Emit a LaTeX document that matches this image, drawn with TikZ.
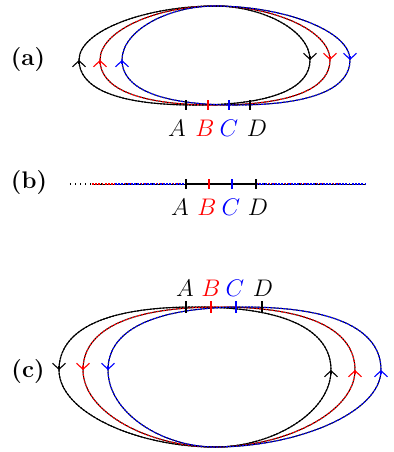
\documentclass[tikz,border=0pt]{standalone}
\usetikzlibrary{arrows.meta}

\tikzset{
  loopline/.style={draw=black,line width=0.5pt,postaction={draw=#1,line width=0.6pt,dash pattern=on 0.9pt off 0.7pt}},
  chevron/.style={draw=#1,line width=0.55pt,-{Straight Barb[length=3pt,width=6.5pt]}},
  tickmark/.style={draw=#1,line width=0.65pt},
  panel/.style={font=\bfseries\fontsize{12}{14}\selectfont},
  letter/.style={text=#1,font=\fontsize{11.5}{13}\selectfont}
}

\begin{document}
\begin{tikzpicture}[x=0.5pt,y=-0.5pt]
    \useasboundingbox (0,0) rectangle (393,452);

    % (a) loops pinched at the top
    \node[panel] (pa) at (28,60) {(a)};
    \foreach \xl/\xr/\col in {79/310/black,100/330/red,122/350/blue}{
        \pgfmathsetmacro{\xm}{(\xl+\xr)/2}
        \draw[loopline=\col] (215,6) .. controls ({215-0.5*(215-\xl)},6) and (\xl,{60-0.55*54}) .. (\xl,60)
            .. controls (\xl,{60+0.6*45}) and ({\xm-0.7*(\xm-\xl)},105) .. (\xm,105)
            .. controls ({\xm+0.7*(\xr-\xm)},105) and (\xr,{60+0.6*45}) .. (\xr,60)
            .. controls (\xr,{60-0.55*54}) and ({215+0.5*(\xr-215)},6) .. (215,6);
        \draw[chevron=\col] (\xl,64) -- (\xl,60);
        \draw[chevron=\col] (\xr,56) -- (\xr,60);
    }
    \foreach \x/\col in {186/black,208/red,229/blue,250/black}
        \draw[tickmark=\col] (\x,100) -- (\x,110);
    \foreach \x/\l/\col in {177/A/black,205/B/red,229/C/blue,257/D/black}
        \node[letter=\col] (a\l) at (\x,128) {$\l$};

    % (b) flat lines
    \node[panel] (pb) at (29,183) {(b)};
    \draw[black,line width=0.55pt,dotted] (70,184) -- (320,184);
    \draw[loopline=red] (92,184) -- (343,184);
    \draw[loopline=blue] (115,184) -- (366,184);
    \draw[black,line width=0.55pt] (186,184) -- (256,184);
    \foreach \x/\col in {186/black,209/red,232/blue,256/black}
        \draw[tickmark=\col] (\x,179) -- (\x,189);
    \foreach \x/\l/\col in {180/A/black,207/B/red,231/C/blue,258/D/black}
        \node[letter=\col] (b\l) at (\x,207) {$\l$};

    % (c) loops pinched at the bottom
    \node[panel] (pc) at (28,372) {(c)};
    \foreach \xl/\xr/\col in {59/331/black,83/355/red,108/381/blue}{
        \pgfmathsetmacro{\xm}{(\xl+\xr)/2}
        \draw[loopline=\col] (215,447) .. controls ({215-0.5*(215-\xl)},447) and (\xl,{370+0.55*77}) .. (\xl,370)
            .. controls (\xl,{370-0.6*63}) and ({\xm-0.7*(\xm-\xl)},307) .. (\xm,307)
            .. controls ({\xm+0.7*(\xr-\xm)},307) and (\xr,{370-0.6*63}) .. (\xr,370)
            .. controls (\xr,{370+0.55*77}) and ({215+0.5*(\xr-215)},447) .. (215,447);
        \draw[chevron=\col] (\xl,366) -- (\xl,370);
        \draw[chevron=\col] (\xr,374) -- (\xr,370);
    }
    \foreach \x/\col in {186/black,211/red,236/blue,262/black}
        \draw[tickmark=\col] (\x,301) -- (\x,313);
    \foreach \x/\l/\col in {185/A/black,211/B/red,235/C/blue,263/D/black}
        \node[letter=\col] (c\l) at (\x,288) {$\l$};
\end{tikzpicture}
\end{document}
